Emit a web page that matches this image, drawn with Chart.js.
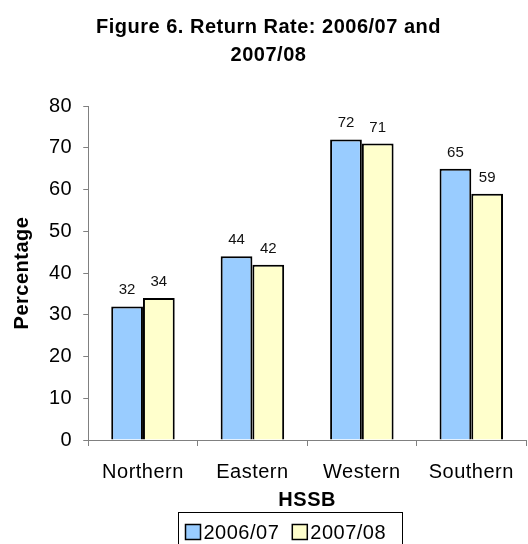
<!DOCTYPE html>
<html>
<head>
<meta charset="utf-8">
<script src="https://cdn.jsdelivr.net/npm/chart.js@4.4.1/dist/chart.umd.min.js"></script>
<style>
  html, body { margin: 0; padding: 0; background: #fff; }
  #wrap { width: 528px; height: 544px; }
</style>
</head>
<body>
<div id="wrap"><canvas id="chart" width="528" height="544"></canvas></div>
<script>
"use strict";

// ---- data ----
const regions = ["Northern", "Eastern", "Western", "Southern"];
const rate0607 = [32, 44, 72, 65];
const rate0708 = [34, 42, 71, 59];
const seriesNames = ["2006/07", "2007/08"];
const yTicks = [0, 10, 20, 30, 40, 50, 60, 70, 80];

const FONT = "'Liberation Sans', Arial, sans-serif";
const BLUE = "#99ccff";
const YELLOW = "#ffffcc";
const SPACING = "0.5px";

// the source renderer spaces glyphs a little wider than the canvas does
const wideText = {
  id: "wideText",
  beforeUpdate(chart) { chart.ctx.letterSpacing = SPACING; },
  beforeDraw(chart) { chart.ctx.letterSpacing = SPACING; },
};

// value labels above each bar
const barLabels = {
  id: "barLabels",
  afterDatasetsDraw(chart) {
    const { ctx } = chart;
    ctx.save();
    ctx.letterSpacing = "0px";
    ctx.font = "15px " + FONT;
    ctx.fillStyle = "#111";
    ctx.textAlign = "center";
    ctx.textBaseline = "alphabetic";
    chart.data.datasets.forEach((ds, i) => {
      chart.getDatasetMeta(i).data.forEach((bar, j) => {
        ctx.fillText(ds.data[j], bar.x, bar.y - 12);
      });
    });
    ctx.restore();
  },
};

// boxed legend drawn under the axis title
const boxLegend = {
  id: "boxLegend",
  afterDraw(chart) {
    const { ctx } = chart;
    const ds = chart.data.datasets;
    ctx.save();
    ctx.letterSpacing = SPACING;
    ctx.font = "20px " + FONT;
    ctx.textBaseline = "middle";
    const box = 15, gap = 3, itemGap = 13, padX = 7;
    const widths = ds.map((d) => box + gap + ctx.measureText(d.label).width);
    const left = 178.5;
    const top = 512.5;
    ctx.strokeStyle = "#000";
    ctx.lineWidth = 1;
    ctx.strokeRect(left, top, 224, 40);
    let x = left + padX;
    const cy = top + 19.5;
    ds.forEach((d, i) => {
      ctx.fillStyle = d.backgroundColor;
      ctx.fillRect(x, cy - box / 2, box, box);
      ctx.strokeStyle = "#000";
      ctx.lineWidth = 1.5;
      ctx.strokeRect(x, cy - box / 2, box, box);
      ctx.fillStyle = "#000";
      ctx.fillText(d.label, x + box + gap, cy + 1);
      x += widths[i] + itemGap;
    });
    ctx.restore();
  },
};

new Chart(document.getElementById("chart"), {
  type: "bar",
  data: {
    labels: regions,
    datasets: [
      { label: seriesNames[0], data: rate0607, backgroundColor: BLUE, borderColor: "#000", borderWidth: 2 },
      { label: seriesNames[1], data: rate0708, backgroundColor: YELLOW, borderColor: "#000", borderWidth: 2 },
    ],
  },
  options: {
    responsive: false,
    animation: false,
    events: [],
    layout: { padding: { left: 10, right: 1, top: 0, bottom: 32 } },
    datasets: { bar: { categoryPercentage: 0.58, barPercentage: 1.0 } },
    plugins: {
      legend: { display: false },
      tooltip: { enabled: false },
      title: {
        display: true,
        text: ["Figure 6. Return Rate: 2006/07 and", "2007/08"],
        color: "#000",
        font: { family: FONT, size: 20, weight: "bold", lineHeight: 1.4 },
        padding: { top: 13, bottom: 37 },
      },
    },
    scales: {
      x: {
        grid: { display: true, drawOnChartArea: false, offset: true, tickLength: 6, color: "#808080" },
        border: { color: "#808080", width: 1 },
        ticks: { color: "#000", font: { family: FONT, size: 20 }, padding: 14 },
        title: { display: true, text: "HSSB", color: "#000", font: { family: FONT, size: 20, weight: "bold" }, padding: { top: -10, bottom: 0 } },
      },
      y: {
        min: yTicks[0],
        max: yTicks[yTicks.length - 1],
        afterBuildTicks: (axis) => { axis.ticks = yTicks.map((v) => ({ value: v })); },
        grid: { display: true, drawOnChartArea: false, tickLength: 5, color: "#808080" },
        border: { color: "#808080", width: 1 },
        ticks: { color: "#000", font: { family: FONT, size: 20 }, padding: 11 },
        title: { display: true, text: "Percentage", color: "#000", font: { family: FONT, size: 20, weight: "bold" }, padding: { top: 0, bottom: 4 } },
      },
    },
  },
  plugins: [wideText, barLabels, boxLegend],
});
</script>
</body>
</html>
